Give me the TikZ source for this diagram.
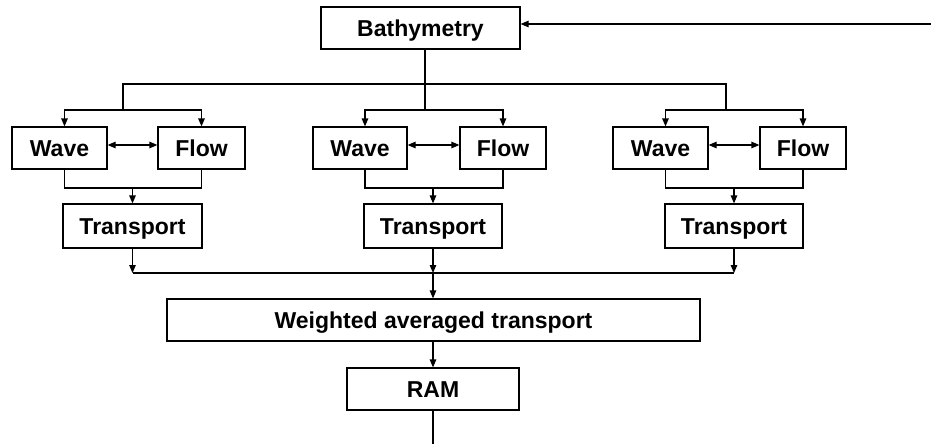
\documentclass[tikz,border=0pt]{standalone}
\usepackage{fontspec}
\setmainfont{Liberation Sans}
\usetikzlibrary{arrows.meta}
\begin{document}
\begin{tikzpicture}[x=1pt,y=-1pt,
  box/.style={draw, line width=1.2pt, inner sep=0pt, minimum height=42pt,
    text height=16.5pt, text depth=0pt,
    font=\fontsize{23}{27}\selectfont\bfseries},
  link/.style={line width=1.2pt},
  tip/.style={link, -{Triangle[length=8pt,width=6.5pt]}},
  both/.style={link, {Triangle[length=8pt,width=6.5pt]}-{Triangle[length=8pt,width=6.5pt]}}]
\useasboundingbox (0,0) rectangle (931,444);

% boxes
\node[box, minimum width=199pt] (bathy) at (420.5,28) {Bathymetry};

\node[box, minimum width=95pt] (w1) at (59.5,148) {Wave};
\node[box, minimum width=87pt] (f1) at (201.5,148) {Flow};
\node[box, minimum width=94pt] (w2) at (360,148) {Wave};
\node[box, minimum width=86pt] (f2) at (503,148) {Flow};
\node[box, minimum width=95pt] (w3) at (660.5,148) {Wave};
\node[box, minimum width=86pt] (f3) at (803,148) {Flow};

\node[box, minimum width=139pt, minimum height=44pt] (t1) at (132.5,226) {Transport};
\node[box, minimum width=138pt, minimum height=44pt] (t2) at (433,226) {Transport};
\node[box, minimum width=138pt, minimum height=44pt] (t3) at (734,226) {Transport};

\node[box, minimum width=533pt] (avg) at (433.5,320) {Weighted averaged transport};
\node[box, minimum width=172pt] (ram) at (433,389) {RAM};

% junction points
\coordinate (split) at (425,84);
\coordinate (d1) at (123,110);
\coordinate (d2) at (425,110);
\coordinate (d3) at (726,110);
\coordinate (m1) at (132.5,188);
\coordinate (m2) at (433,188);
\coordinate (m3) at (734,188);
\coordinate (j1) at (132.5,273);
\coordinate (j2) at (433,273);
\coordinate (j3) at (734,273);
\coordinate (fbin) at (931,24);
\coordinate (fbout) at (433,444);

% feedback into bathymetry
\draw[tip] (fbin) -- (bathy.east |- fbin);

% bathymetry to the three model groups
\draw[link] (bathy.south -| split) -- (split);
\draw[link] (d1) |- (split) -| (d3);
\draw[link] (split) -- (d2);
\foreach \i in {1,2,3}{
  \draw[tip] (d\i) -| ([xshift=5pt]w\i.north);
  \draw[tip] (d\i) -| (f\i.north);
  \draw[both] ([yshift=3pt]w\i.east) -- ([yshift=3pt]f\i.west);
  \draw[link] ([xshift=5pt]w\i.south) |- (m\i) -| (f\i.south);
  \draw[tip] (m\i) -- (t\i.north |- m\i) -- (t\i.north);
  \draw[tip] (t\i) -- (j\i);
}

% collecting the transports
\draw[link] (j1) -- (j3);
\draw[tip] (j2) -- (avg.north -| j2);
\draw[tip] (avg.south -| ram) -- (ram);
\draw[link] (ram) -- (fbout);
\end{tikzpicture}
\end{document}
